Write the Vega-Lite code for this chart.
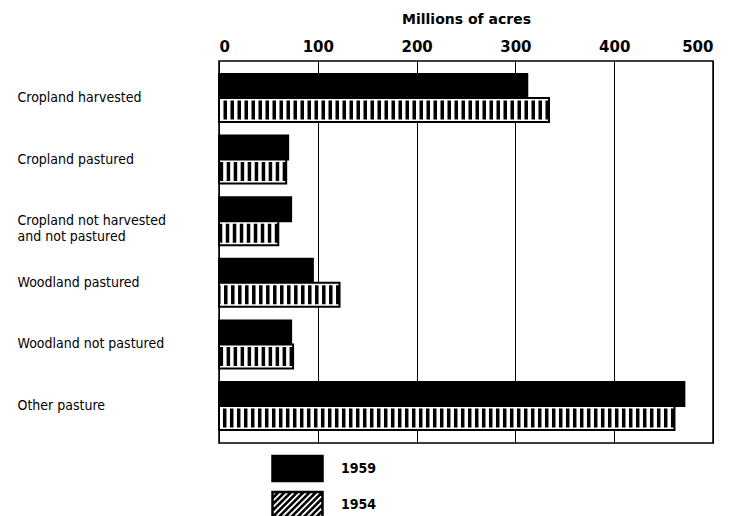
{
  "$schema": "https://vega.github.io/schema/vega-lite/v6.json",
  "width": 494,
  "height": 382,
  "autosize": {"type": "none"},
  "padding": {"left": 219, "top": 61, "right": 16, "bottom": 73},
  "background": "white",
  "config": {"view": {"stroke": "black", "strokeWidth": 1.5}},
  "data": {
    "values": [
      {"category": "Cropland harvested", "year": "1959", "value": 312},
      {"category": "Cropland harvested", "year": "1954", "value": 334},
      {"category": "Cropland pastured", "year": "1959", "value": 70},
      {"category": "Cropland pastured", "year": "1954", "value": 68},
      {"category": "Cropland not harvested and not pastured", "year": "1959", "value": 73},
      {"category": "Cropland not harvested and not pastured", "year": "1954", "value": 60},
      {"category": "Woodland pastured", "year": "1959", "value": 95},
      {"category": "Woodland pastured", "year": "1954", "value": 122},
      {"category": "Woodland not pastured", "year": "1959", "value": 73},
      {"category": "Woodland not pastured", "year": "1954", "value": 75},
      {"category": "Other pasture", "year": "1959", "value": 471},
      {"category": "Other pasture", "year": "1954", "value": 461}
    ]
  },
  "encoding": {
    "y": {
      "field": "category",
      "type": "nominal",
      "sort": ["Cropland harvested", "Cropland pastured", "Cropland not harvested and not pastured", "Woodland pastured", "Woodland not pastured", "Other pasture"],
      "scale": {"paddingInner": 0.22, "paddingOuter": 0.21},
      "axis": {
        "title": null,
        "domain": false,
        "ticks": false,
        "grid": false,
        "labelAlign": "left",
        "labelPadding": 202,
        "labelFont": "DejaVu Sans Condensed",
        "labelFontSize": 14,
        "labelColor": "black",
        "labelLimit": 300,
        "labelLineHeight": 16,
        "labelExpr": "datum.label == 'Cropland not harvested and not pastured' ? ['Cropland not harvested', 'and not pastured'] : datum.label"
      }
    },
    "yOffset": {
      "field": "year",
      "type": "nominal",
      "scale": {"domain": ["1959", "1954"], "paddingInner": 0, "paddingOuter": 0}
    },
    "x": {
      "field": "value",
      "type": "quantitative",
      "scale": {"domain": [0, 500], "nice": false},
      "axis": {
        "orient": "top",
        "title": "Millions of acres",
        "titleFont": "DejaVu Sans",
        "titleFontWeight": "bold",
        "titleFontSize": 14,
        "titleColor": "black",
        "titlePadding": 13,
        "labelFont": "DejaVu Sans",
        "labelFontWeight": "bold",
        "labelFontSize": 15,
        "labelColor": "black",
        "labelPadding": 7,
        "ticks": false,
        "domain": false,
        "grid": true,
        "gridColor": "black",
        "gridOpacity": 1,
        "gridWidth": 1,
        "values": [0, 100, 200, 300, 400, 500]
      }
    }
  },
  "layer": [
    {
      "mark": {"type": "bar", "stroke": "black", "strokeWidth": 2},
      "encoding": {
        "fill": {
          "field": "year",
          "type": "nominal",
          "scale": {"domain": ["1959", "1954"], "range": ["black", "white"]},
          "legend": {
            "orient": "none",
            "legendX": 64.5,
            "legendY": 393.5,
            "title": null,
            "direction": "vertical",
            "padding": 0,
            "symbolType": "M-2,-1H2V1H-2Z M-2,-0.5L-1.5,-1 M-2,0L-1,-1 M-2,0.5L-0.5,-1 M-2,1L0,-1 M-1.5,1L0.5,-1 M-1,1L1,-1 M-0.5,1L1.5,-1 M0,1L2,-1 M0.5,1L2,-0.5 M1,1L2,0 M1.5,1L2,0.5",
            "symbolSize": 625,
            "symbolStrokeColor": "black",
            "symbolStrokeWidth": 2.5,
            "symbolOpacity": 1,
            "labelFont": "DejaVu Sans Condensed",
            "labelFontWeight": "bold",
            "labelFontSize": 14,
            "labelColor": "black",
            "labelOffset": 29.5,
            "rowPadding": 0
          }
        }
      }
    },
    {
      "transform": [{"filter": "datum.year == '1954'"}],
      "mark": {"type": "rule", "strokeWidth": 19, "strokeDash": [3.5, 3.5], "color": "black", "strokeCap": "butt"},
      "encoding": {"x2": {"datum": 0}}
    }
  ]
}
